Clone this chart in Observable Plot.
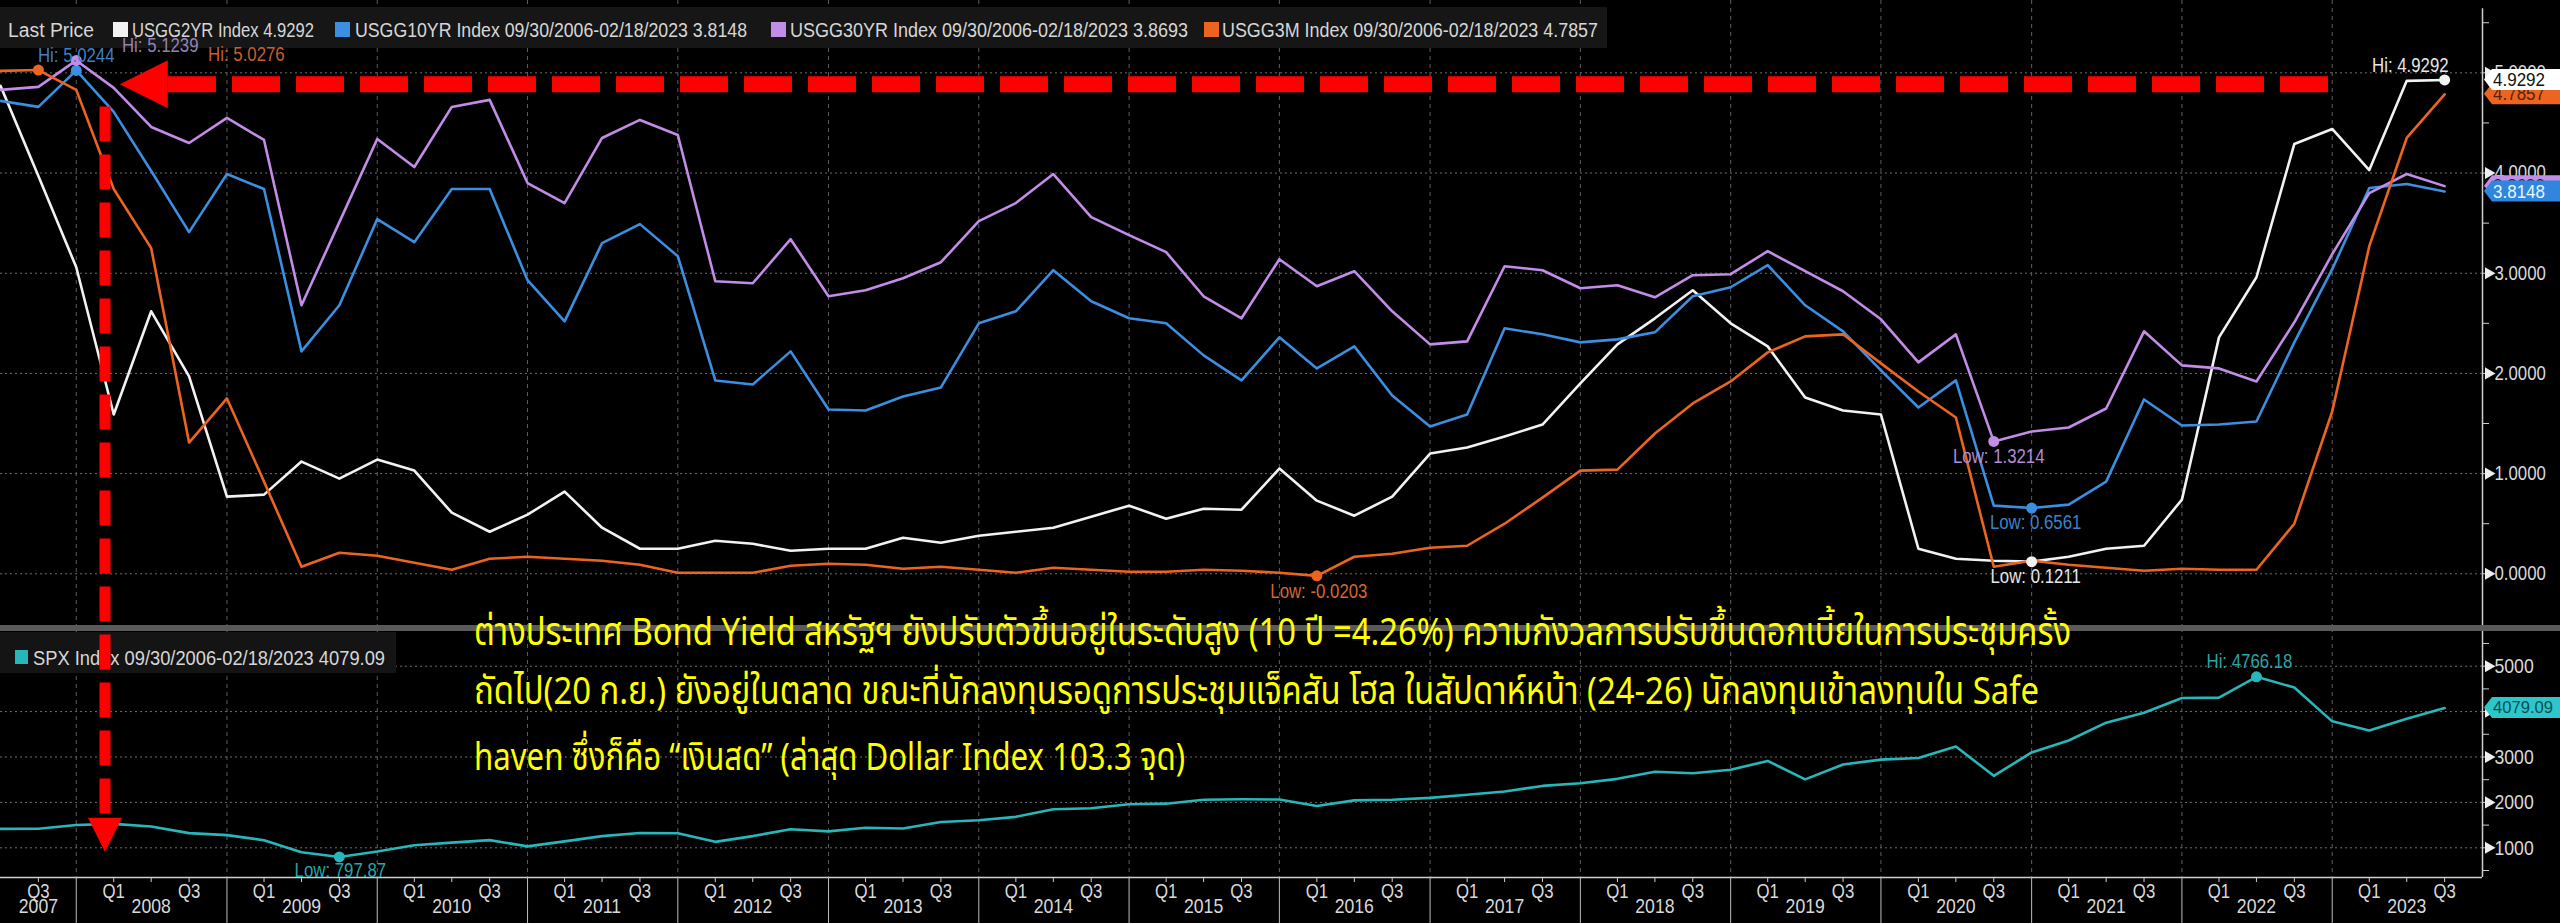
<!DOCTYPE html>
<html><head><meta charset="utf-8">
<script src="https://cdn.jsdelivr.net/npm/d3@7"></script>
<script src="https://cdn.jsdelivr.net/npm/@observablehq/plot@0.6"></script>
<style>
html,body{margin:0;padding:0;background:#000;}
#wrap{position:relative;width:2560px;height:923px;overflow:hidden;background:#000;}
.abs{position:absolute;left:0;}
</style></head>
<body><div id="wrap"><div id="top" class="abs" style="top:0"></div><div id="bot" class="abs" style="top:628px"></div><svg id="ovl" class="abs" style="top:0" width="2560" height="923"></svg></div>
<script>
const FONT = "'Liberation Sans Narrow','Liberation Sans',Arial,sans-serif";
const THAI = "'Noto Sans Thai','Noto Sans Thai Looped','Loma','Garuda','Sarabun','Noto Sans',sans-serif";

// ---------- DATA (quarterly points) ----------
const usgg2yr  = [4.87,3.97,3.06,1.59,2.62,1.97,0.77,0.79,1.12,0.95,1.14,1.03,0.61,0.42,0.59,0.82,0.46,0.25,0.25,0.33,0.30,0.23,0.25,
                  0.25,0.36,0.31,0.38,0.42,0.46,0.57,0.68,0.55,0.65,0.64,1.05,0.73,0.58,0.77,1.20,1.26,1.37,1.49,1.90,2.29,
                  2.55,2.83,2.50,2.27,1.76,1.63,1.59,0.25,0.15,0.13,0.1211,0.17,0.25,0.28,0.74,2.36,2.96,4.29,4.44,4.03,4.92,4.9292];
const usgg10yr = [4.72,4.66,5.0244,4.61,4.02,3.41,3.99,3.84,2.22,2.68,3.54,3.31,3.84,3.84,2.93,2.52,3.30,3.49,3.17,1.93,1.89,2.22,1.64,
                  1.63,1.77,1.86,2.50,2.62,3.03,2.72,2.55,2.50,2.18,1.93,2.36,2.05,2.27,1.78,1.47,1.59,2.45,2.39,2.31,2.34,
                  2.41,2.77,2.86,3.08,2.68,2.42,2.03,1.66,1.93,0.68,0.6561,0.69,0.92,1.74,1.48,1.49,1.52,2.31,3.04,3.85,3.89,3.8148];
const usgg30yr = [4.83,4.86,5.1239,4.85,4.46,4.30,4.55,4.33,2.68,3.51,4.34,4.06,4.66,4.73,3.90,3.70,4.35,4.53,4.38,2.92,2.90,3.34,2.77,
                  2.83,2.95,3.11,3.52,3.70,3.99,3.56,3.38,3.21,2.77,2.55,3.14,2.87,3.02,2.62,2.29,2.32,3.07,3.03,2.85,2.88,
                  2.76,2.98,2.99,3.22,3.02,2.82,2.54,2.11,2.39,1.3214,1.42,1.46,1.65,2.42,2.08,2.05,1.92,2.51,3.19,3.80,3.99,3.8693];
const usgg3m   = [5.02,5.0276,4.83,3.84,3.25,1.31,1.75,0.92,0.07,0.21,0.18,0.11,0.04,0.15,0.17,0.15,0.13,0.09,0.01,0.01,0.01,0.08,0.10,
                  0.09,0.05,0.07,0.04,0.01,0.06,0.04,0.02,0.02,0.04,0.03,0.01,-0.0203,0.17,0.20,0.26,0.28,0.50,0.76,1.03,1.04,
                  1.40,1.70,1.92,2.21,2.37,2.39,2.10,1.82,1.56,0.07,0.13,0.09,0.06,0.03,0.05,0.04,0.04,0.50,1.62,3.27,4.35,4.7857];
const spx      = [1418,1421,1503,1527,1468,1323,1280,1166,903,797.87,919,1057,1115,1169,1031,1141,1258,1326,1321,1131,1258,1408,1362,
                  1441,1426,1569,1606,1682,1848,1872,1960,1972,2059,2068,2063,1920,2044,2060,2099,2168,2239,2363,2423,2519,
                  2674,2641,2718,2914,2507,2834,2942,2977,3231,2585,3100,3363,3756,3973,4298,4308,4766.18,4530,3785,3586,3840,4079.09];

const seriesNames  = ["USGG2YR", "USGG10YR", "USGG30YR", "USGG3M"];
const legendLabels = ["USGG2YR Index 4.9292", "USGG10YR Index 09/30/2006-02/18/2023 3.8148",
                      "USGG30YR Index 09/30/2006-02/18/2023 3.8693", "USGG3M Index 09/30/2006-02/18/2023 4.7857"];
const spxLegend    = "SPX Index 09/30/2006-02/18/2023 4079.09";
const lastValues   = {USGG2YR: 4.9292, USGG10YR: 3.8148, USGG30YR: 3.8693, USGG3M: 4.7857, SPX: 4079.09};

const yTicksTop  = [0,1,2,3,4,5];
const yMinorTop  = [0,0.5,1,1.5,2,2.5,3,3.5,4,4.5,5,5.5];
const yTicksSpx  = [1000,2000,3000,4000,5000];
const yMinorSpx  = [500,1000,1500,2000,2500,3000,3500,4000,4500,5000,5500];
const yearLabels = ["2007","2008","2009","2010","2011","2012","2013","2014","2015","2016","2017","2018","2019","2020","2021","2022","2023"];
const quarterLabels = {3: "Q1", 6: "", 9: "Q3"};

const noteTextTop = [
  {s:"USGG10YR", i:2,  label:"Hi: 5.0244",  color:"#3f7fc4", dx:0,   dy:-15, anchor:"middle"},
  {s:"USGG30YR", i:2,  label:"Hi: 5.1239",  color:"#9282b4", dx:84,  dy:-15, anchor:"middle"},
  {s:"USGG3M",   i:1,  label:"Hi: 5.0276",  color:"#c4602c", dx:208, dy:-15, anchor:"middle"},
  {s:"USGG3M",   i:35, label:"Low: -0.0203",color:"#d2672f", dx:2,   dy:16,  anchor:"middle"},
  {s:"USGG30YR", i:53, label:"Low: 1.3214", color:"#b38ad6", dx:5,   dy:15,  anchor:"middle"},
  {s:"USGG10YR", i:54, label:"Low: 0.6561", color:"#3a83cc", dx:4,   dy:15,  anchor:"middle"},
  {s:"USGG2YR",  i:54, label:"Low: 0.1211", color:"#e6e6e6", dx:4,   dy:15,  anchor:"middle"},
  {s:"USGG2YR",  i:65, label:"Hi: 4.9292",  color:"#e6e6e6", dx:4,   dy:-14, anchor:"end"}
];
const noteTextSpx = [
  {i:60, label:"Hi: 4766.18", dx:-7, dy:-15},
  {i:9,  label:"Low: 797.87", dx:1,  dy:14}
];
const thaiLines = [
  "ต่างประเทศ Bond Yield สหรัฐฯ ยังปรับตัวขึ้นอยู่ในระดับสูง (10 ปี =4.26%) ความกังวลการปรับขึ้นดอกเบี้ยในการประชุมครั้ง",
  "ถัดไป(20 ก.ย.) ยังอยู่ในตลาด ขณะที่นักลงทุนรอดูการประชุมแจ็คสัน โฮล ในสัปดาห์หน้า (24-26) นักลงทุนเข้าลงทุนใน Safe",
  "haven ซึ่งก็คือ “เงินสด” (ล่าสุด Dollar Index 103.3 จุด)"
];
// red hand-drawn arrows (in data units)
const redLevel = 4.88, redTip = Date.UTC(2008,3,17), redDashStart = Date.UTC(2008,7,12), redDashEnd = Date.UTC(2023,0,16);
const redVertDate = Date.UTC(2008,2,12), redVertTop = 4.66, redVertHead = 1650, redVertTip = 896;

// ---------- STYLE ----------
const colors = {USGG2YR:"#f2f2f2", USGG10YR:"#3b8ee0", USGG30YR:"#c28ce8", USGG3M:"#ec6420", SPX:"#27b6ba"};
const valuesBy = {USGG2YR: usgg2yr, USGG10YR: usgg10yr, USGG30YR: usgg30yr, USGG3M: usgg3m};
const W = 2560, RIGHT = 78;
const xDomain = [new Date(Date.UTC(2007,6,1)), new Date(Date.UTC(2024,0,1))];
const dates = d3.range(66).map(i => new Date(Date.UTC(2007, 6 + 3*i, 1)));
const rows = vals => vals.map((v,i) => ({date: dates[i], v}));
const yearStarts = d3.range(2008, 2024).map(y => new Date(Date.UTC(y,0,1)));
const quarterTicks = [];
for (let y = 2007; y <= 2023; y++) for (const m of [3,6,9]) {
  const d = new Date(Date.UTC(y,m,1)); if (d > xDomain[0]) quarterTicks.push(d);
}
const yearPos = yearLabels.map((t,k) => ({label:t, date: k === 0 ? new Date(Date.UTC(2007,9,1)) : new Date(Date.UTC(+t,6,1))}));

const topDomain = [-0.516, 5.722];
const spxDomain = [346, 5830];

// legend boxes drawn inside the plots (above gridlines, below series & notes)
function topLegend() {
  const g = d3.create("svg:g").attr("text-anchor","start");
  g.append("rect").attr("x",0).attr("y",7).attr("width",1607).attr("height",41).attr("fill","#161616");
  const items = [
    {sq:null, tx:8, len:86, text:"Last Price"},
    {sq:113, tx:132, len:182, text:legendLabels[0], c:colors.USGG2YR},
    {sq:335, tx:355, len:392, text:legendLabels[1], c:colors.USGG10YR},
    {sq:771, tx:790, len:398, text:legendLabels[2], c:colors.USGG30YR},
    {sq:1204, tx:1222, len:376, text:legendLabels[3], c:colors.USGG3M}
  ];
  for (const it of items) {
    if (it.sq != null) g.append("rect").attr("x",it.sq).attr("y",22).attr("width",15).attr("height",15).attr("fill",it.c);
    g.append("text").attr("x",it.tx).attr("y",30).attr("dominant-baseline","central").attr("text-anchor","start")
      .attr("textLength",it.len).attr("lengthAdjust","spacingAndGlyphs")
      .attr("font-family",FONT).attr("font-size",20).attr("fill","#d6d6d6").text(it.text);
  }
  return g.node();
}
function spxLegendMark() {
  const g = d3.create("svg:g").attr("text-anchor","start");
  g.append("rect").attr("x",0).attr("y",4).attr("width",396).attr("height",41).attr("fill","#141414");
  g.append("rect").attr("x",15).attr("y",22).attr("width",13).attr("height",14).attr("fill",colors.SPX);
  g.append("text").attr("x",33).attr("y",30).attr("dominant-baseline","central").attr("text-anchor","start")
    .attr("textLength",352).attr("lengthAdjust","spacingAndGlyphs")
    .attr("font-family",FONT).attr("font-size",20).attr("fill","#d6d6d6").text(spxLegend);
  return g.node();
}

const topPlot = Plot.plot({
  width: W, height: 628, marginLeft: 0, marginRight: RIGHT, marginTop: 0, marginBottom: 3,
  style: {background:"transparent", color:"#d9d9d9", fontFamily: FONT, overflow:"visible"},
  x: {type:"utc", domain: xDomain, axis: null},
  y: {domain: topDomain, axis: null},
  marks: [
    Plot.ruleY(yTicksTop, {stroke:"#6e6e6e", strokeDasharray:"2,3", strokeWidth:1}),
    Plot.ruleX(yearStarts, {stroke:"#5e5e5e", strokeDasharray:"4,4", strokeWidth:1}),
    topLegend,
    ...seriesNames.map(s => Plot.line(rows(valuesBy[s]), {x:"date", y:"v", stroke:colors[s], strokeWidth:2.6})),
    Plot.ruleX([xDomain[1]], {y1:-0.516, y2:5.64, stroke:"#cfcfcf", strokeWidth:1.5}),
    Plot.axisY({anchor:"right", ticks: yMinorTop, tickSize:6, tickFormat:() => "", stroke:"#cfcfcf", label:null}),
    Plot.dot(yTicksTop, {y:d=>d, frameAnchor:"right", dx:6, symbol:"triangle", r:4.5, rotate:90, fill:"#eeeeee", stroke:"none"}),
    Plot.text(yTicksTop, {y:d=>d, text:d=>d.toFixed(4), frameAnchor:"right", dx:12, textAnchor:"start", fill:"#d9d9d9", fontSize:20, fontFamily:FONT}),
    ...noteTextTop.map(n => Plot.dot([n], {x:d=>dates[d.i], y:d=>valuesBy[d.s][d.i], r:5.5, fill:colors[n.s], stroke:"none"})),
    ...noteTextTop.map(n => Plot.text([n], {x:d=>dates[d.i], y:d=>valuesBy[d.s][d.i], text:"label", dx:n.dx, dy:n.dy, textAnchor:n.anchor, fill:n.color, fontSize:20, fontFamily:FONT}))
  ]
});
document.getElementById("top").append(topPlot);

const spxRows = rows(spx);
const botPlot = Plot.plot({
  width: W, height: 295, marginLeft: 0, marginRight: RIGHT, marginTop: 0, marginBottom: 46,
  style: {background:"transparent", color:"#d9d9d9", fontFamily: FONT, overflow:"visible"},
  x: {type:"utc", domain: xDomain, axis: null},
  y: {domain: spxDomain, axis: null},
  marks: [
    Plot.ruleY(yTicksSpx, {stroke:"#6e6e6e", strokeDasharray:"2,3", strokeWidth:1}),
    Plot.ruleX(yearStarts, {stroke:"#5e5e5e", strokeDasharray:"4,4", strokeWidth:1}),
    spxLegendMark,
    Plot.line(spxRows, {x:"date", y:"v", stroke:colors.SPX, strokeWidth:2.6}),
    Plot.ruleY([spxDomain[0]], {stroke:"#cfcfcf", strokeWidth:1.5}),
    Plot.ruleX([xDomain[1]], {stroke:"#cfcfcf", strokeWidth:1.5}),
    Plot.axisY({anchor:"right", ticks: yMinorSpx, tickSize:6, tickFormat:() => "", stroke:"#cfcfcf", label:null}),
    Plot.dot(yTicksSpx, {y:d=>d, frameAnchor:"right", dx:6, symbol:"triangle", r:4.5, rotate:90, fill:"#eeeeee", stroke:"none"}),
    Plot.text(yTicksSpx, {y:d=>d, text:d=>String(d), frameAnchor:"right", dx:12, textAnchor:"start", fill:"#d9d9d9", fontSize:21, fontFamily:FONT}),
    Plot.axisX({anchor:"bottom", ticks: quarterTicks, tickSize:5, tickPadding:1, tickFormat: d => quarterLabels[d.getUTCMonth()], stroke:"#cfcfcf", fill:"#d9d9d9", fontSize:20, label:null}),
    Plot.axisX({anchor:"bottom", ticks: yearStarts, tickSize:46, tickFormat:() => "", stroke:"#bdbdbd", label:null}),
    Plot.text(yearPos, {x:"date", text:"label", frameAnchor:"bottom", dy:35, fill:"#d9d9d9", fontSize:21, fontFamily:FONT}),
    ...noteTextSpx.map(n => Plot.dot([n], {x:d=>dates[d.i], y:d=>spx[d.i], r:5.5, fill:colors.SPX, stroke:"none"})),
    ...noteTextSpx.map(n => Plot.text([n], {x:d=>dates[d.i], y:d=>spx[d.i], text:"label", dx:n.dx, dy:n.dy, fill:"#2aa5a8", fontSize:20, fontFamily:FONT}))
  ]
});
document.getElementById("bot").append(botPlot);

// Bloomberg-style condensed lettering for the plots' own texts
function condense(root, factor) {
  root.querySelectorAll("text").forEach(t => {
    if (t.hasAttribute("textLength")) return;
    const w = t.getComputedTextLength();
    if (w > 0) { t.setAttribute("textLength", (w * factor).toFixed(1)); t.setAttribute("lengthAdjust", "spacingAndGlyphs"); }
  });
}
condense(topPlot, 0.84);
condense(botPlot, 0.84);

// ---------- OVERLAY (separator, annotations, value tags) ----------
const xs = topPlot.scale("x"), yt = topPlot.scale("y"), yb = botPlot.scale("y");
const X = t => xs.apply(new Date(t));
const YT = v => yt.apply(v);
const YB = v => 628 + yb.apply(v);
const ov = d3.select("#ovl");

ov.append("rect").attr("x",0).attr("y",625).attr("width",2560).attr("height",6).attr("fill","#5a5a5a");

// red arrows
const red = "#ff0000";
const ry = YT(redLevel);
ov.append("line").attr("x1",X(redDashStart)).attr("x2",X(redDashEnd)).attr("y1",ry).attr("y2",ry)
  .attr("stroke",red).attr("stroke-width",16).attr("stroke-dasharray","48,16");
const tipX = X(redTip);
ov.append("polygon").attr("points",`${tipX},${ry} ${tipX+48},${ry-24} ${tipX+48},${ry+24}`).attr("fill",red);
const vx = X(redVertDate), vTop = YT(redVertTop), vHead = YB(redVertHead), vTip = YB(redVertTip);
ov.append("line").attr("x1",vx).attr("x2",vx).attr("y1",vTop).attr("y2",vHead)
  .attr("stroke",red).attr("stroke-width",11).attr("stroke-dasharray","35,13");
ov.append("polygon").attr("points",`${vx-17},${vHead} ${vx+17},${vHead} ${vx},${vTip}`).attr("fill",red);

// Thai commentary
const thaiY = [633, 692, 758], thaiLen = [1597, 1565, 711];
thaiLines.forEach((t,k) => {
  ov.append("text").attr("x",474).attr("y",thaiY[k]).attr("dominant-baseline","central")
    .attr("textLength",thaiLen[k]).attr("lengthAdjust","spacingAndGlyphs")
    .attr("font-family",THAI).attr("font-size",39).attr("fill","#ffff00").text(t);
});

// value tags on right axis
function tag(y, fill, tc, label, len, fs) {
  const x0 = 2484;
  ov.append("polygon").attr("points",`${x0},${y} ${x0+8},${y-10.5} 2560,${y-10.5} 2560,${y+10.5} ${x0+8},${y+10.5}`).attr("fill",fill);
  ov.append("text").attr("x",x0+9).attr("y",y).attr("dominant-baseline","central")
    .attr("textLength",len).attr("lengthAdjust","spacingAndGlyphs")
    .attr("font-family",FONT).attr("font-size",fs).attr("fill",tc).text(label);
}
tag(YT(lastValues.USGG30YR), colors.USGG30YR, "#2a1a3a", lastValues.USGG30YR.toFixed(4), 52, 19);
tag(YT(lastValues.USGG10YR), "#2f86dc", "#eef4ff", lastValues.USGG10YR.toFixed(4), 52, 19);
tag(YT(lastValues.USGG3M), colors.USGG3M, "#5a2008", lastValues.USGG3M.toFixed(4), 52, 19);
tag(YT(lastValues.USGG2YR), "#ffffff", "#111111", lastValues.USGG2YR.toFixed(4), 52, 19);
tag(YB(lastValues.SPX), "#2cc6cb", "#0b4e50", lastValues.SPX.toFixed(2), 60, 17);
</script>
</body></html>
